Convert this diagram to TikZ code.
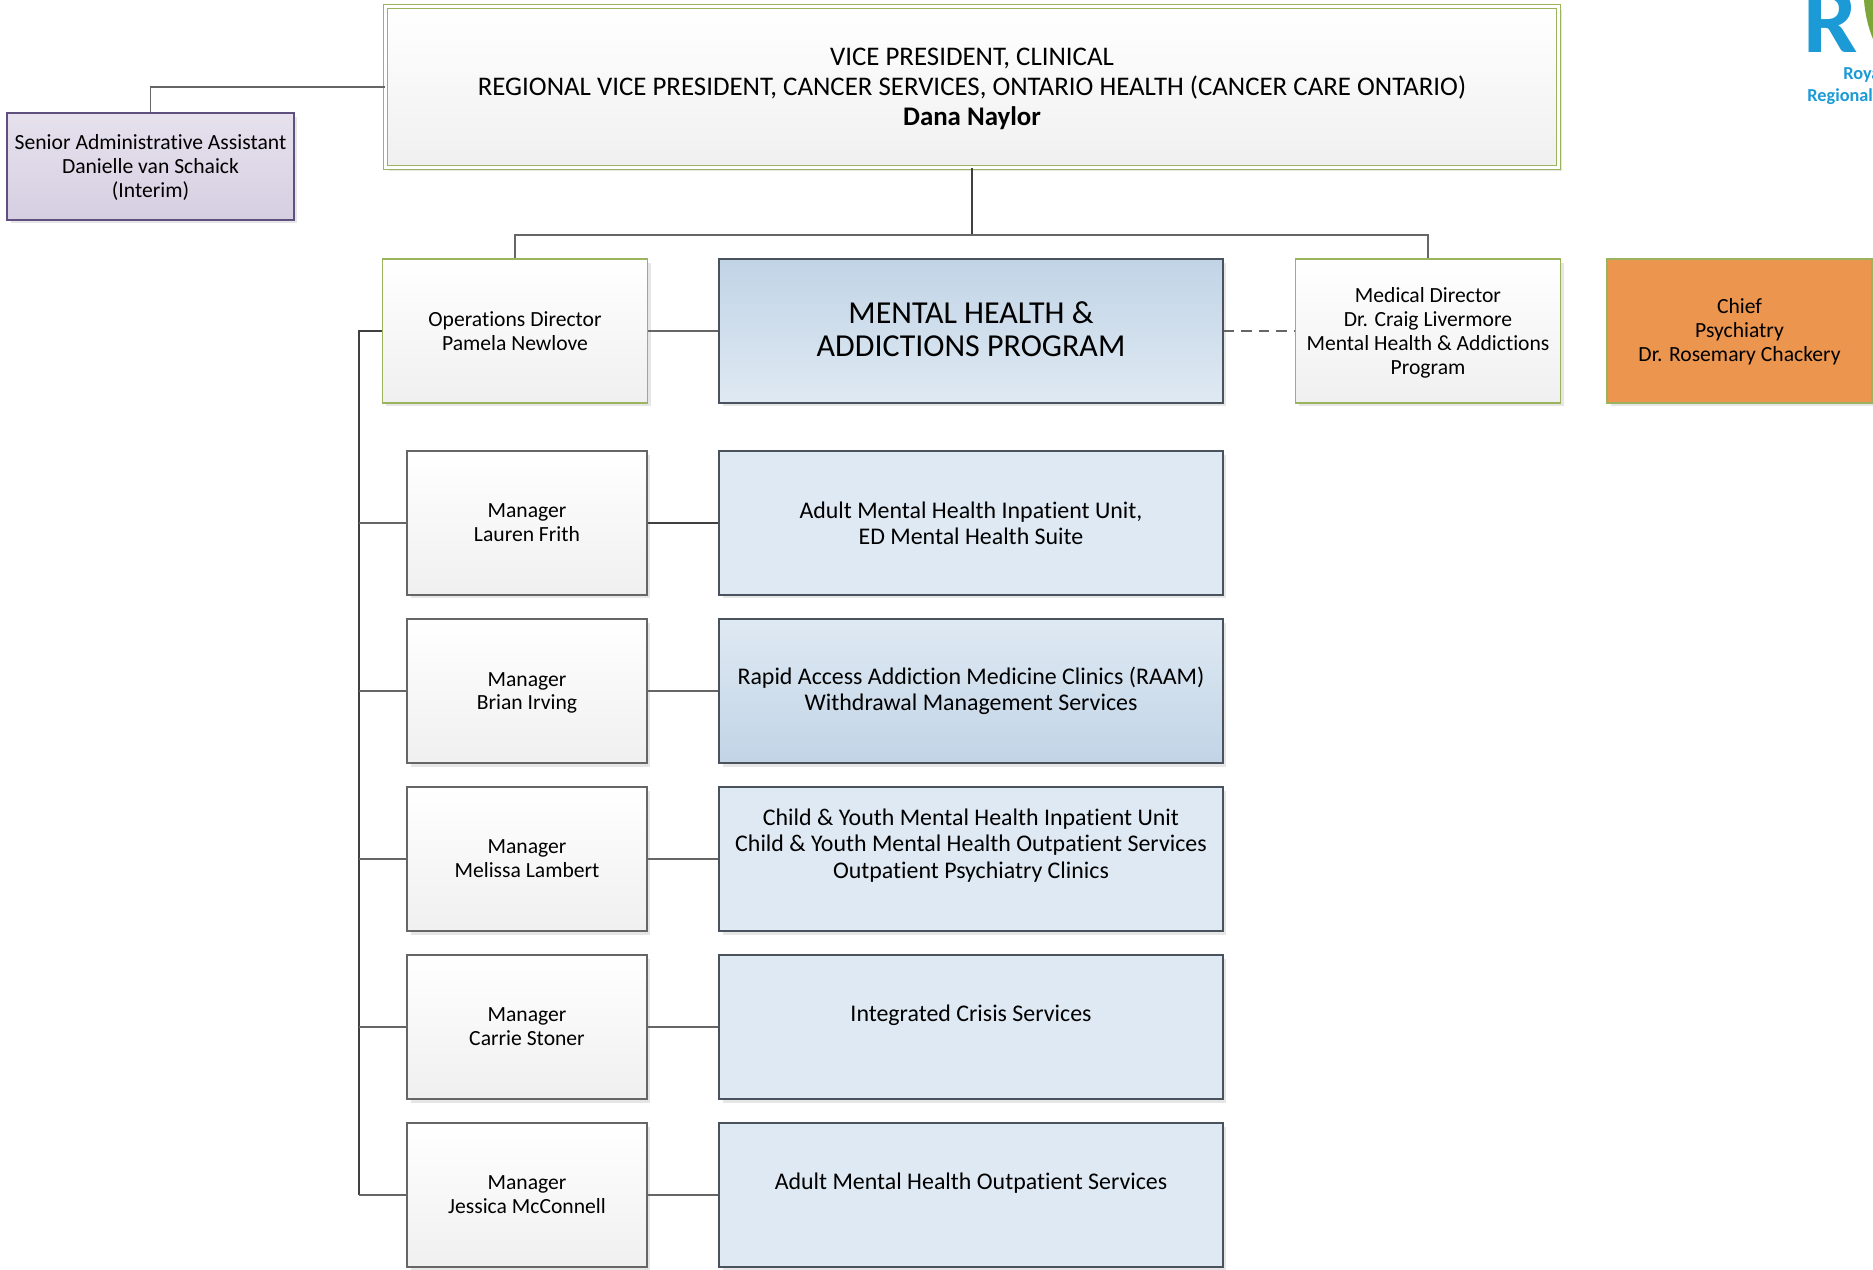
\documentclass[tikz,border=0pt]{standalone}
\usepackage{fontspec}
\setmainfont[Ligatures=NoCommon]{Carlito}
\usetikzlibrary{shadows, positioning}
\definecolor{boxgreen}{HTML}{9BB35F}
\definecolor{boxgrey}{HTML}{666666}
\definecolor{boxnavy}{HTML}{4A525E}
\definecolor{boxpurple}{HTML}{5F5080}
\definecolor{paleblue}{HTML}{DFE9F3}
\definecolor{midblue}{HTML}{C1D4E6}
\definecolor{palepurple}{HTML}{E6E1ED}
\definecolor{midpurple}{HTML}{D6CFE2}
\definecolor{chieforange}{HTML}{EB954F}
\definecolor{logoblue}{HTML}{1B9AD6}
\definecolor{logogreen}{HTML}{7DA63A}
\tikzset{
  softshadow/.style={
    drop shadow={shadow xshift=0.07cm,shadow yshift=-0.07cm,opacity=0.2}
  },
  director/.style={
    rectangle, draw=boxgreen, line width=0.8pt, top color=white, bottom color=black!6,
    minimum width=5.3cm, minimum height=2.88cm, inner sep=0pt, align=center,
    font=\fontsize{12.3}{13.6}\selectfont, softshadow
  },
  topbox/.style={
    director, double=white, double distance=1.4pt, line width=0.9pt,
    minimum width=23.46cm, minimum height=3.22cm, text depth=0pt,
    font=\fontsize{15.3}{17.2}\selectfont
  },
  admin/.style={
    director, draw=boxpurple, top color=palepurple, bottom color=midpurple,
    minimum width=5.74cm, minimum height=2.14cm, text depth=0.03cm
  },
  chief/.style={
    director, top color=chieforange, bottom color=chieforange
  },
  manager/.style={
    director, draw=boxgrey, minimum width=4.8cm
  },
  program/.style={
    rectangle, draw=boxnavy, line width=0.8pt, fill=paleblue,
    minimum width=10.08cm, minimum height=2.88cm, inner sep=0pt, align=center,
    font=\fontsize{13.6}{15}\selectfont, softshadow
  },
  link/.style={line width=0.7pt, color=boxgrey},
  trunk/.style={line width=1pt, color=black!75},
  logotext/.style={anchor=base west, inner sep=0pt, text=logoblue, font=\fontsize{10.4}{12}\bfseries\selectfont}
}
\begin{document}
\begin{tikzpicture}[x=0.02cm, y=-0.02cm]
  \useasboundingbox (0,0) rectangle (1873,1269);
  % Top row
  \node[topbox] (vp) at (972,87) {VICE PRESIDENT, CLINICAL\\REGIONAL VICE PRESIDENT, CANCER SERVICES, ONTARIO HEALTH (CANCER CARE ONTARIO)\\\textbf{Dana Naylor}};
  \node[admin] (assistant) at (150.5,166.5) {Senior Administrative Assistant\\Danielle van Schaick\\(Interim)};

  % Directors
  \node[director] (ops) at (515,331) {Operations Director\\Pamela Newlove};
  \node[program, top color=midblue, bottom color=paleblue, text depth=0.07cm, font=\fontsize{18.2}{18.5}\selectfont] (mhap) at (971,331) {MENTAL HEALTH \&\\ADDICTIONS PROGRAM};
  \node[director, text depth=0pt] (medical) at (1428,331) {Medical Director\\Dr. Craig Livermore\\Mental Health \& Addictions\\Program};
  \node[chief, text depth=0.04cm] (psychiatry) at (1739.5,331) {Chief\\Psychiatry\\Dr. Rosemary Chackery};

  % Managers
  \node[manager] (frith) at (527,523) {Manager\\Lauren Frith};
  \node[manager, text depth=0pt] (irving) at (527,691) {Manager\\Brian Irving};
  \node[manager] (lambert) at (527,859) {Manager\\Melissa Lambert};
  \node[manager] (stoner) at (527,1027) {Manager\\Carrie Stoner};
  \node[manager] (mcconnell) at (527,1195) {Manager\\Jessica McConnell};

  % Programs
  \node[program] (inpatient) at (971,523) {Adult Mental Health Inpatient Unit,\\ED Mental Health Suite};
  \node[program, top color=paleblue, bottom color=midblue] (raam) at (971,691) {Rapid Access Addiction Medicine Clinics (RAAM)\\Withdrawal Management Services};
  \node[program, text depth=0.62cm] (child) at (971,859) {Child \& Youth Mental Health Inpatient Unit\\Child \& Youth Mental Health Outpatient Services\\Outpatient Psychiatry Clinics};
  \node[program] (crisis) at (971,1027) {\raisebox{0.55cm}{Integrated Crisis Services}};
  \node[program] (outpatient) at (971,1195) {\raisebox{0.55cm}{Adult Mental Health Outpatient Services}};

  % Connectors
  \coordinate (bus) at (972,235);
  \coordinate (spine) at (359,331);
  \draw[link] (vp.west) -| (assistant.north);
  \draw[trunk] (vp.south) -- (bus);
  \draw[link] (ops.north) |- (bus) -| (medical.north);
  \draw[link] (ops.east) -- (mhap.west);
  \draw[link, dashed, dash pattern=on 6pt off 4pt] (mhap.east) -- (medical.west);
  \draw[trunk] (ops.west) -- (spine) -- (spine |- mcconnell.west);
  \draw[link] (spine |- frith.west) -- (frith.west);
  \draw[link] (spine |- irving.west) -- (irving.west);
  \draw[link] (spine |- lambert.west) -- (lambert.west);
  \draw[link] (spine |- stoner.west) -- (stoner.west);
  \draw[link] (spine |- mcconnell.west) -- (mcconnell.west);
  \draw[trunk] (frith.east) -- (inpatient.west);
  \draw[link] (irving.east) -- (raam.west);
  \draw[link] (lambert.east) -- (child.west);
  \draw[link] (stoner.east) -- (crisis.west);
  \draw[link] (mcconnell.east) -- (outpatient.west);

  % Logo, cut off by the page edge
  \fill[logogreen] (1873,0) -- (1864,0) .. controls (1865,15) and (1869,30) .. (1873,39) -- cycle;
  \node[logotext, font=\fontsize{55}{55}\bfseries\selectfont] (logoletter) at (1803,52) {R};
  \node[logotext] (logoroyal) at (1843,79) {Roya};
  \node[logotext] (logoregional) at (1807,101) {Regional};
\end{tikzpicture}
\end{document}
